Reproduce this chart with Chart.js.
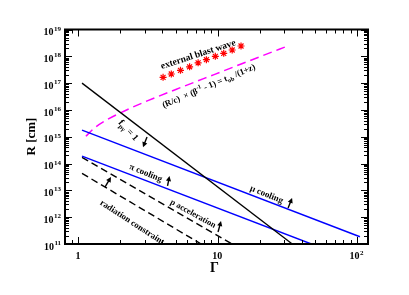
<!DOCTYPE html>
<html><head><meta charset="utf-8">
<script src="https://cdn.jsdelivr.net/npm/chart.js@4"></script>
<style>html,body{margin:0;padding:0;background:#fff}</style>
</head><body>
<canvas id="c" width="409" height="295" style="width:409px;height:295px"></canvas>
<script>
// ---- data ----
const xTickValues = [1, 10, 100];
const xTickExps = ['', '', '2'];
const xTickBases = ['1', '10', '10'];
const yTickExps = [11, 12, 13, 14, 15, 16, 17, 18, 19];

const fpgGamma = [1.06, 34.3];
const fpgR = [1.0e17, 1.0e11];
const muGamma = [1.06, 105];
const muR = [1.78e15, 1.86e11];
const piGamma = [1.06, 47];
const piR = [1.9e14, 1.0e11];
const paccGamma = [1.06, 12.7];
const paccR = [1.7e14, 1.0e11];
const radGamma = [1.06, 7.6];
const radR = [4.3e13, 1.0e11];
const tobGamma = [1.13, 1.3, 1.6, 2, 3, 5, 8, 12, 20, 32];
const tobR = [1.05e15, 2.1e15, 4.3e15, 7.8e15, 2.0e16, 5.8e16, 1.5e17, 3.4e17, 9.6e17, 2.45e18];
const blastGamma = [4.05, 4.64, 5.40, 6.28, 7.23, 8.29, 9.61, 11.04, 12.7, 14.7];
const blastR = [1.64e17, 2.19e17, 3.0e17, 4.07e17, 5.7e17, 7.46e17, 1.0e18, 1.29e18, 1.72e18, 2.42e18];

const pts = (xs, ys) => xs.map((x, i) => ({x: x, y: ys[i]}));

const SERIF = '"Liberation Serif", "DejaVu Serif", serif';

const labels = [
  {segs: [['external blast wave', 0]], g: 7.22, r: 1.22e18, ang: -18, size: 9.5},
  {segs: [['(R/c)  \u00d7 (\u03b2', 0], ['-1', 1], [' - 1) = t', 0], ['ob', -1], [' /(1+z)', 0]], g: 8.6, r: 8.0e16, ang: -23, size: 8.8},
  {segs: [['f', 0], ['p\u03b3', -1], [' = 1', 0]], g: 2.29, r: 1.78e15, ang: 48, size: 9.5},
  {segs: [['\u03c0 cooling', 0]], g: 3.05, r: 4.6e13, ang: 22, size: 9},
  {segs: [['\u03bc cooling', 0]], g: 22.5, r: 7.3e12, ang: 22, size: 9},
  {segs: [['p acceleration', 0]], g: 6.68, r: 1.39e12, ang: 29, size: 8.5},
  {segs: [['radiation constraint', 0]], g: 2.44, r: 6.6e11, ang: 33, size: 8.8}
];

const arrows = [
  {g0: 3.105, r0: 9.8e14, g1: 2.906, r1: 4.1e14},
  {g0: 4.36, r0: 1.46e13, g1: 4.50, r1: 3.4e13},
  {g0: 32.0, r0: 2.2e12, g1: 34.2, r1: 5.2e12},
  {g0: 10.05, r0: 2.8e11, g1: 10.56, r1: 7.2e11},
  {g0: 1.55, r0: 1.33e13, g1: 1.712, r1: 3.15e13}
];

function rich(ctx, segs, cx, cy, angDeg, size) {
  ctx.save();
  ctx.translate(cx, cy);
  ctx.rotate(angDeg * Math.PI / 180);
  const fontFor = m => 'bold ' + (m === 0 ? size : size * 0.7).toFixed(2) + 'px ' + SERIF;
  let total = 0;
  const ws = segs.map(([t, m]) => { ctx.font = fontFor(m); const w = ctx.measureText(t).width; total += w; return w; });
  let xx = -total / 2;
  ctx.textAlign = 'left';
  ctx.textBaseline = 'alphabetic';
  ctx.fillStyle = '#000';
  segs.forEach(([t, m], i) => {
    ctx.font = fontFor(m);
    let by = size * 0.33;
    if (m === 1) by -= size * 0.42;
    if (m === -1) by += size * 0.25;
    ctx.fillText(t, xx, by);
    xx += ws[i];
  });
  ctx.restore();
}

const framePlugin = {
  id: 'framePlugin',
  afterDraw(chart) {
    const ctx = chart.ctx, a = chart.chartArea;
    const xs = chart.scales.x, ys = chart.scales.y;
    const X = v => xs.getPixelForValue(v), Y = v => ys.getPixelForValue(v);
    ctx.save();
    labels.forEach(l => rich(ctx, l.segs, X(l.g), Y(l.r), l.ang, l.size));
    ctx.strokeStyle = '#000'; ctx.fillStyle = '#000'; ctx.lineWidth = 1.4;
    arrows.forEach(ar => {
      const x0 = X(ar.g0), y0 = Y(ar.r0), x1 = X(ar.g1), y1 = Y(ar.r1);
      const dx = x1 - x0, dy = y1 - y0, L = Math.hypot(dx, dy), ux = dx / L, uy = dy / L;
      const hl = 5, hw = 2.6;
      ctx.beginPath(); ctx.moveTo(x0, y0); ctx.lineTo(x1 - ux * hl * 0.8, y1 - uy * hl * 0.8); ctx.stroke();
      ctx.beginPath();
      ctx.moveTo(x1, y1);
      ctx.lineTo(x1 - ux * hl - uy * hw, y1 - uy * hl + ux * hw);
      ctx.lineTo(x1 - ux * hl + uy * hw, y1 - uy * hl - ux * hw);
      ctx.closePath(); ctx.fill();
    });
    ctx.lineWidth = 1; ctx.strokeStyle = '#000';
    const seg = (x0, y0, x1, y1) => { ctx.beginPath(); ctx.moveTo(x0, y0); ctx.lineTo(x1, y1); ctx.stroke(); };
    for (let e = -1; e <= 2; e++) for (let m = 1; m <= 9; m++) {
      const v = m * Math.pow(10, e);
      if (v < 0.8 - 1e-9 || v > 120 + 1e-9) continue;
      const px = Math.round(X(v)) + 0.5, L = m === 1 ? 7 : 4;
      seg(px, a.bottom, px, a.bottom - L);
      seg(px, a.top, px, a.top + L);
    }
    for (let e = 11; e <= 19; e++) for (let m = 1; m <= 9; m++) {
      const v = m * Math.pow(10, e);
      if (v > 1e19 * 1.0001) continue;
      const py = Math.round(Y(v)) + 0.5, L = m === 1 ? 7 : 4;
      seg(a.left, py, a.left + L, py);
      seg(a.right, py, a.right - L, py);
    }
    ctx.lineWidth = 2;
    ctx.strokeRect(a.left, a.top, a.right - a.left, a.bottom - a.top);
    ctx.fillStyle = '#000'; ctx.textBaseline = 'alphabetic'; ctx.textAlign = 'left';
    yTickExps.forEach(k => {
      const ty = Y(Math.pow(10, k));
      ctx.font = 'bold 7px ' + SERIF;
      const sw = ctx.measureText(String(k)).width;
      ctx.font = 'bold 10px ' + SERIF;
      const bw = ctx.measureText('10').width;
      const R = 61;
      ctx.fillText('10', R - sw - 0.5 - bw, ty + 5.7);
      ctx.font = 'bold 7px ' + SERIF;
      ctx.fillText(String(k), R - sw, ty + 1);
    });
    xTickValues.forEach((v, i) => {
      const tx = X(v);
      ctx.font = 'bold 10px ' + SERIF;
      const bw = ctx.measureText(xTickBases[i]).width;
      ctx.font = 'bold 7px ' + SERIF;
      const sw = xTickExps[i] ? ctx.measureText(xTickExps[i]).width + 0.5 : 0;
      const start = tx - (bw + sw) / 2 - 0.5;
      ctx.font = 'bold 10px ' + SERIF;
      ctx.fillText(xTickBases[i], start, 259);
      if (xTickExps[i]) { ctx.font = 'bold 7px ' + SERIF; ctx.fillText(xTickExps[i], start + bw + 0.5, 255); }
    });
    ctx.font = 'bold 14px ' + SERIF;
    ctx.textAlign = 'center';
    ctx.fillText('\u0393', 214.5, 272.3);
    ctx.save();
    ctx.translate(35, 136.5);
    ctx.rotate(-Math.PI / 2);
    ctx.font = 'bold 13px ' + SERIF;
    ctx.fillText('R [cm]', 0, 0);
    ctx.restore();
    ctx.restore();
  }
};

const lineDs = (xs, ys, color, dash, w) => ({
  data: pts(xs, ys), showLine: true, borderColor: color, borderWidth: w,
  borderDash: dash, pointRadius: 0, fill: false
});

new Chart(document.getElementById('c'), {
  type: 'scatter',
  data: {
    datasets: [
      lineDs(fpgGamma, fpgR, '#000000', [], 1.3),
      lineDs(muGamma, muR, '#0000ff', [], 1.4),
      lineDs(piGamma, piR, '#0000ff', [], 1.4),
      lineDs(paccGamma, paccR, '#000000', [7, 4], 1.4),
      lineDs(radGamma, radR, '#000000', [7, 4], 1.4),
      Object.assign(lineDs(tobGamma, tobR, '#ff00ff', [9, 5], 1.5), {cubicInterpolationMode: 'monotone'}),
      {data: pts(blastGamma, blastR), showLine: false, pointStyle: 'star', pointRadius: 3.5,
       borderColor: '#ff0000', backgroundColor: '#ff0000', pointBorderWidth: 1.2}
    ]
  },
  options: {
    responsive: false, animation: false, devicePixelRatio: 1,
    layout: {padding: {left: 65, right: 41, top: 29.5, bottom: 51}},
    plugins: {legend: {display: false}, tooltip: {enabled: false}},
    scales: {
      x: {type: 'logarithmic', min: 0.8, max: 120, display: false},
      y: {type: 'logarithmic', min: 1e11, max: 1e19, display: false}
    }
  },
  plugins: [framePlugin]
});
</script>
</body></html>
